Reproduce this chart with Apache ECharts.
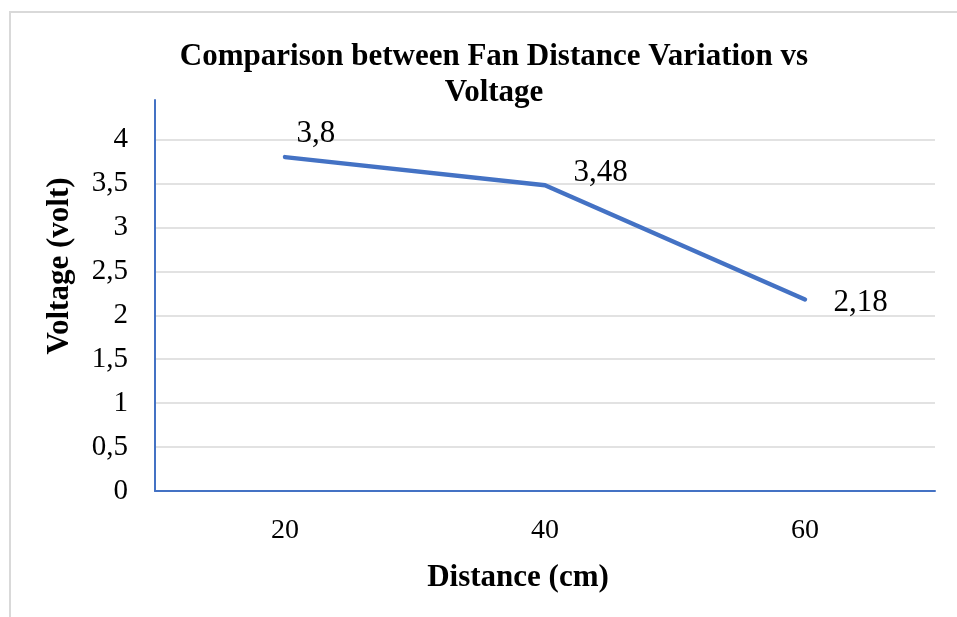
<!DOCTYPE html>
<html>
<head>
<meta charset="utf-8">
<script src="https://cdn.jsdelivr.net/npm/echarts@6/dist/echarts.min.js"></script>
<style>html,body{margin:0;padding:0;background:#fff;}#c{width:957px;height:617px;}</style>
</head>
<body>
<div id="c"></div>
<script>
const categories = ['20', '40', '60'];
const voltage = [3.8, 3.48, 2.18];
const yTicks = [0, 0.5, 1, 1.5, 2, 2.5, 3, 3.5, 4];

const serif = '"Liberation Serif", "Times New Roman", serif';
const labelOffsets = [[-15, -23], [2, -12], [2, 3]];
const chart = echarts.init(document.getElementById('c'));
chart.setOption({
  backgroundColor: '#fff',
  animation: false,
  graphic: [{
    type: 'rect', shape: {x: 10, y: 12, width: 950, height: 610},
    style: {fill: 'none', stroke: '#d9d9d9', lineWidth: 2}, silent: true
  }, {
    type: 'text', x: 60, y: 266, rotation: Math.PI / 2,
    style: {text: 'Voltage (volt)', fontFamily: serif, fontWeight: 'bold', fontSize: 31,
      fill: '#000', align: 'center', verticalAlign: 'middle'}
  }, {
    type: 'text', x: 518, y: 578,
    style: {text: 'Distance (cm)', fontFamily: serif, fontWeight: 'bold', fontSize: 31,
      fill: '#000', align: 'center', verticalAlign: 'middle'}
  }],
  title: {
    text: 'Comparison between Fan Distance Variation vs\nVoltage',
    left: 489, top: 34, textAlign: 'center',
    textStyle: {fontFamily: serif, fontWeight: 'bold', fontSize: 31, color: '#000', lineHeight: 36}
  },
  grid: {left: 155, width: 780, top: 100, bottom: 126, containLabel: false},
  xAxis: {
    type: 'category', data: categories, boundaryGap: true,
    axisLine: {lineStyle: {color: '#4472C4', width: 2}},
    axisTick: {show: false},
    axisLabel: {fontFamily: serif, fontSize: 28, color: '#000', margin: 26}
  },
  yAxis: {
    type: 'value', min: 0, max: 4.45, interval: 0.5,
    axisLine: {show: true, lineStyle: {color: '#4472C4', width: 2}},
    axisTick: {show: false},
    axisLabel: {
      fontFamily: serif, fontSize: 29, color: '#000', margin: 27,
      formatter: v => yTicks.includes(Math.round(v * 100) / 100) ? String(v).replace('.', ',') : ''
    },
    splitLine: {show: true, showMinLine: false, showMaxLine: false, lineStyle: {color: '#d9d9d9', width: 1.5}}
  },
  series: [{
    type: 'line', data: voltage.map((v, i) => ({value: v, label: {offset: labelOffsets[i]}})),
    showSymbol: true, symbol: 'circle', symbolSize: 1,
    itemStyle: {color: '#4472C4'},
    lineStyle: {color: '#4472C4', width: 4.5, cap: 'round', join: 'round'},
    label: {
      show: true, position: 'right', distance: 26,
      fontFamily: serif, fontSize: 31, color: '#000',
      formatter: p => String(p.value).replace('.', ',')
    }
  }]
});
</script>
</body>
</html>
